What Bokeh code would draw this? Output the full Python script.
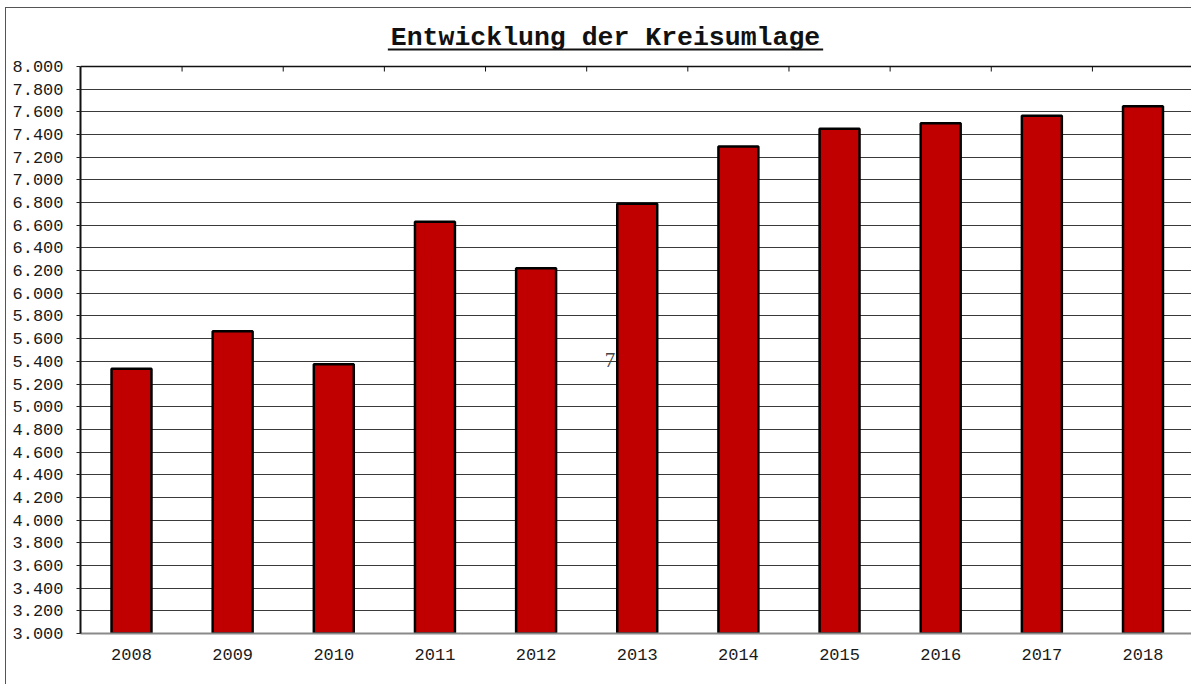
from bokeh.plotting import figure
from bokeh.models import Range1d, FixedTicker, Label, BoxAnnotation
from bokeh.embed import file_html
from bokeh.resources import INLINE

# ---- data ----
years = ["2008", "2009", "2010", "2011", "2012", "2013", "2014", "2015", "2016", "2017", "2018"]
kreisumlage = [5335, 5665, 5375, 6630, 6220, 6790, 7295, 7450, 7500, 7565, 7650]
y_ticks = list(range(3000, 8001, 200))
y_tick_labels = [f"{v:,}".replace(",", ".") for v in y_ticks]
y_min, y_max = 3000, 8000
title_text = "Entwicklung der Kreisumlage"
stray_text = "7"

# ---- layout / styling ----
W, H = 1191, 684
BORDER_L, BORDER_B = 80, 51
FRAME_H = H - BORDER_B
PLOT_TOP_PX = 66                     # pixel row of the 8.000 line
units_per_px = (y_max - y_min) / (FRAME_H - PLOT_TOP_PX)
y_top = y_max + PLOT_TOP_PX * units_per_px
px_per_cat = 101.15
first_center_px = 131 - BORDER_L
x_start = -first_center_px / px_per_cat
x_end = x_start + (W - BORDER_L) / px_per_cat

BAR_COLOR = "#C00000"
MONO = "Liberation Mono"
bar_w = 0.395
xs = list(range(len(years)))

p = figure(width=W, height=H, output_backend="svg", toolbar_location=None,
           x_range=Range1d(x_start, x_end), y_range=Range1d(y_min, y_top),
           min_border_left=BORDER_L, min_border_right=0, min_border_top=0,
           min_border_bottom=BORDER_B)
p.background_fill_alpha = 0
p.border_fill_alpha = 0
p.outline_line_color = None
p.styles = {"box-shadow": "inset 5px 7px 0 0 #ffffff, inset 6px 8px 0 0 #555555",
            "background-color": "#ffffff"}

# grid
p.xgrid.grid_line_color = None
p.ygrid.ticker = FixedTicker(ticks=y_ticks)
p.ygrid.grid_line_color = "#3a3a3a"
p.ygrid.grid_line_width = 1

# top line with inside ticks at category boundaries
tick_len = 5 * units_per_px
bounds_x = [i + 0.5 for i in xs[:-1]]
p.segment(x0=[x_start], y0=[y_max], x1=[x_end], y1=[y_max], line_color="#111", line_width=1.5)
p.segment(x0=bounds_x, y0=[y_max] * len(bounds_x), x1=bounds_x,
          y1=[y_max - tick_len] * len(bounds_x), line_color="#111", line_width=1)

p.vbar(x=xs, top=kreisumlage, bottom=y_min, width=bar_w,
       fill_color=BAR_COLOR, line_color="black", line_width=2.5)

# bottom axis
p.xaxis.ticker = FixedTicker(ticks=xs)
p.xaxis.major_label_overrides = {i: y for i, y in enumerate(years)}
p.xaxis.major_tick_line_color = None
p.xaxis.minor_tick_line_color = None
p.xaxis.axis_line_color = "#8a8a8a"
p.xaxis.axis_line_width = 2
p.xaxis.major_label_text_font = MONO
p.xaxis.major_label_text_font_size = "17px"
p.xaxis.major_label_text_color = "#1a1a1a"
p.xaxis.major_label_standoff = 9

# left axis
p.yaxis.ticker = FixedTicker(ticks=y_ticks)
p.yaxis.bounds = (y_min, y_max)
p.yaxis.major_label_overrides = {v: s for v, s in zip(y_ticks, y_tick_labels)}
p.yaxis.minor_tick_line_color = None
p.yaxis.major_tick_in = 0
p.yaxis.major_tick_out = 4
p.yaxis.major_tick_line_color = "#222"
p.yaxis.axis_line_color = "#111"
p.yaxis.axis_line_width = 2
p.yaxis.major_label_text_font = MONO
p.yaxis.major_label_text_font_size = "17px"
p.yaxis.major_label_text_color = "#1a1a1a"
p.yaxis.major_label_standoff = 13

# title (label + underline), placed in the space above the 8.000 line
title_fs = 26.5
title_cx = (605 - 131) / px_per_cat
title_base = y_max + (PLOT_TOP_PX - 37) * units_per_px
p.add_layout(Label(x=title_cx, y=title_base, text=title_text, text_font=MONO,
                   text_font_style="bold", text_font_size=f"{title_fs}px",
                   text_color="#111", text_align="center", text_baseline="alphabetic"))
half = (len(title_text) * 0.6 * title_fs / 2 + 3) / px_per_cat
p.add_layout(BoxAnnotation(left=title_cx - half, right=title_cx + half,
                           bottom=y_max + (PLOT_TOP_PX - 50) * units_per_px,
                           top=y_max + (PLOT_TOP_PX - 48) * units_per_px,
                           fill_color="#111", fill_alpha=1, line_color=None))

# stray label
stray_y = y_max - (359 - PLOT_TOP_PX) * units_per_px
p.add_layout(Label(x=5 - bar_w / 2 - 0.02, y=stray_y, text=stray_text,
                   text_font="Liberation Serif", text_font_size="21px", text_color="#444",
                   text_align="right", text_baseline="alphabetic"))

open("out.html", "w").write(file_html(p, INLINE))
